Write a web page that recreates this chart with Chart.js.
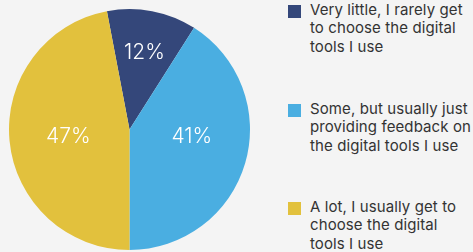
<!DOCTYPE html>
<html>
<head>
<meta charset="utf-8">
<script src="https://cdn.jsdelivr.net/npm/chart.js@4.4.0/dist/chart.umd.min.js"></script>
<style>
  html, body { margin: 0; padding: 0; background: #f4f4f4; }
  body { width: 473px; height: 252px; position: relative; overflow: hidden; font-family: 'Inter', sans-serif; }
  #wrap { position: absolute; left: 0; top: 0; width: 260px; height: 252px; }
  #legend { position: absolute; left: 288px; top: 0; width: 185px; }
  .item { position: absolute; left: 0; }
  .box { position: absolute; left: 0; width: 13px; height: 13px; }
  .txt { position: absolute; left: 22px; top: -4px; white-space: nowrap; font-size: 15px; line-height: 18.3px; color: #333; letter-spacing: 0.1px; }
</style>
</head>
<body>
<div id="wrap"><canvas id="pie"></canvas></div>
<div id="legend"></div>
<script>
// chart data
const categories = [
  ['Very little, I rarely get', 'to choose the digital', 'tools I use'],
  ['Some, but usually just', 'providing feedback on', 'the digital tools I use'],
  ['A lot, I usually get to', 'choose the digital', 'tools I use']
]
const shares = [12, 41, 47]
const colors = ['#34477a', '#4aaee1', '#e2c13d']

// label placement (fraction of radius, angle tweak in degrees)
const labelRadius = [0.66, 0.52, 0.51]
const labelTurn = [0, -10.5, 0]

const pctLabels = {
  id: 'pctLabels',
  afterDatasetsDraw(chart) {
    const ctx = chart.ctx
    const meta = chart.getDatasetMeta(0)
    ctx.save()
    ctx.fillStyle = '#ffffff'
    ctx.font = '300 21px Inter, sans-serif'
    ctx.textAlign = 'center'
    ctx.textBaseline = 'middle'
    meta.data.forEach((arc, i) => {
      const p = arc.getProps(['x', 'y', 'startAngle', 'endAngle', 'outerRadius'], true)
      const a = (p.startAngle + p.endAngle) / 2 + labelTurn[i] * Math.PI / 180
      const r = p.outerRadius * labelRadius[i]
      ctx.fillText(shares[i] + '%', p.x + Math.cos(a) * r, p.y + Math.sin(a) * r + 1)
    })
    ctx.restore()
  }
}

const chart = new Chart(document.getElementById('pie'), {
  type: 'pie',
  data: {
    labels: categories.map((c) => c.join(' ')),
    datasets: [{
      data: shares,
      backgroundColor: colors,
      borderWidth: 0
    }]
  },
  options: {
    responsive: true,
    maintainAspectRatio: false,
    animation: false,
    rotation: -10.8,
    layout: { padding: { top: 8, bottom: 1, left: 9, right: 10 } },
    plugins: {
      legend: { display: false },
      tooltip: { enabled: false }
    }
  },
  plugins: [pctLabels]
})

// html legend built from the same arrays
const legend = document.getElementById('legend')
const tops = [5, 104, 202]
categories.forEach((lines, i) => {
  const item = document.createElement('div')
  item.className = 'item'
  item.style.top = tops[i] + 'px'
  const box = document.createElement('div')
  box.className = 'box'
  box.style.background = colors[i]
  const txt = document.createElement('div')
  txt.className = 'txt'
  txt.innerHTML = lines.join('<br>')
  item.appendChild(box)
  item.appendChild(txt)
  legend.appendChild(item)
})
</script>
</body>
</html>
